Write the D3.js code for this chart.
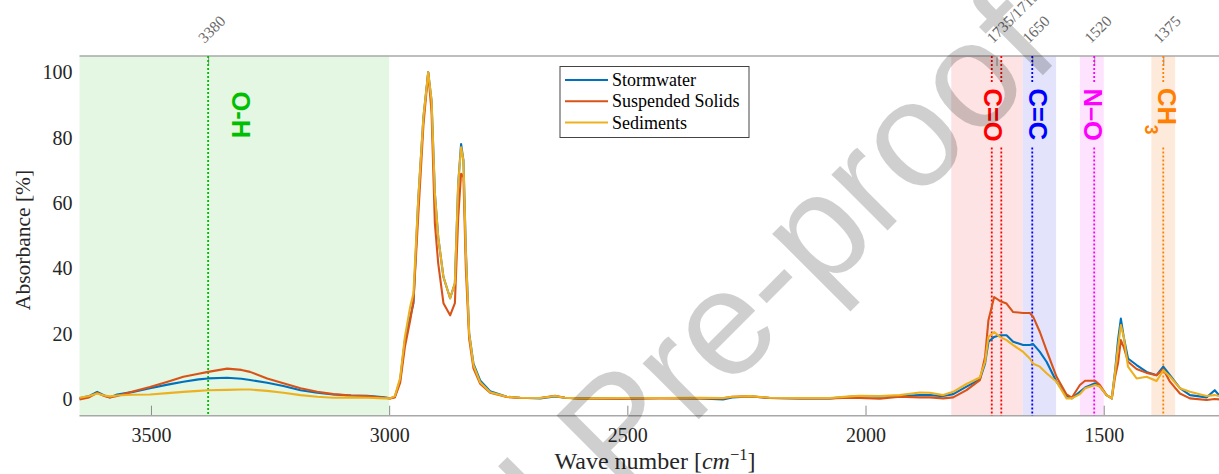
<!DOCTYPE html>
<html>
<head>
<meta charset="utf-8">
<script src="https://cdn.jsdelivr.net/npm/d3@7"></script>
<style>
  html, body { margin: 0; padding: 0; background: #fff; }
  svg { display: block; }
</style>
</head>
<body>
<svg id="chart" width="1219" height="474"></svg>
<script>
// FTIR spectra: wave number (cm^-1) and normalised absorbance (%)
const waveNumbers = [3650,3630,3613,3598,3586,3571,3540,3502,3465,3432,3400,3380,3340,3310,3292,3256,3222,3186,3151,3117,3080,3046,3010,2998,2988,2977,2967,2956,2949,2939,2928,2918,2911,2904,2897,2886,2872,2862,2855,2849,2844,2839,2832,2823,2809,2788,2753,2725,2683,2652,2631,2599,2515,2431,2347,2299,2280,2242,2201,2138,2075,2033,2012,1970,1928,1886,1865,1837,1816,1788,1760,1749,1742,1730,1718,1704,1690,1669,1655,1648,1634,1620,1599,1578,1567,1550,1539,1518,1508,1494,1483,1476,1470,1464,1458,1449,1431,1410,1389,1375,1361,1340,1319,1284,1267,1258];

const stormwater = [0.3,1.0,2.3,1.2,0.6,1.5,2.2,3.4,4.5,5.4,6.1,6.4,6.6,6.3,5.9,5.1,4.1,2.8,2.0,1.5,1.2,1.1,0.6,0.3,0.8,5.9,18,25,29.4,60.8,86.3,100,91.3,62.9,49.6,37.4,30.9,35.5,66,78.1,73,45.6,20.2,10.9,5.8,2.5,0.8,0.5,0.3,0.9,0.5,0.3,0.3,0.4,0.3,0.0,0.6,0.9,0.4,0.3,0.3,0.8,1.0,0.8,1.0,1.3,1.3,1.0,1.6,3.9,6.1,11,17.6,19.1,19.6,19.6,17.6,16.6,16.6,16.9,14.5,11.5,5.4,1.0,0.3,2.3,3.6,4.9,3.9,1.3,0.3,8.9,18.1,24.7,19.1,12.5,10.5,8.4,7.4,10,7.4,3.4,1.3,0.6,2.8,1.3];

const suspendedSolids = [0.0,0.6,2.0,1.0,0.6,1.0,2.3,3.8,5.4,6.9,7.8,8.4,9.4,9.0,8.4,6.4,4.9,3.4,2.3,1.6,1.2,1.0,0.5,0.3,0.6,5.0,16,24,30,56,84,100,88,53.7,41.6,29.4,25.7,29.4,55.7,69,68,40,18.5,9.5,4.8,2.0,0.7,0.4,0.4,1.1,0.5,0.2,0.2,0.3,0.3,0.3,0.8,0.9,0.4,0.3,0.3,0.5,0.4,0.2,0.8,0.6,0.6,0.3,0.6,2.8,5.9,13,24.2,31.3,30.1,29.3,26.7,26.4,26.4,25.2,20.6,15,6.9,1.5,0.5,4.4,5.7,5.7,4.4,1.3,0.3,7,11,18.1,16,11.5,9.3,8.1,7.4,9.2,5.4,1.8,0.3,-0.2,0.1,0.0];

const sediments = [0.5,1.0,1.8,1.2,0.9,1.2,1.4,1.5,1.9,2.3,2.6,2.8,2.9,3.0,3.0,2.6,2.0,1.3,0.8,0.5,0.6,0.5,0.3,0.3,1.0,6.5,19,28.2,32.4,61,86.5,100,91.5,62.9,49.6,37.4,30.9,35.5,66,77.1,73,45,20,10.5,5.2,2.2,0.8,0.5,0.4,1.0,0.5,0.3,0.4,0.4,0.5,0.4,0.8,1.0,0.5,0.4,0.4,0.9,1.1,1.0,1.3,2.1,2.0,1.3,2.3,4.7,6.7,11.5,19.1,20.6,19.1,18.1,16.6,14.5,12.5,10.9,10,8,5.4,0.3,0.3,1.6,3.4,4.4,3.9,1.3,0.3,8.5,16,22.7,19.1,10,6.4,6.9,5.6,8.9,7.0,3.4,2.3,1.0,1.3,1.0];

const seriesNames = ["Stormwater", "Suspended Solids", "Sediments"];
const xTickValues = [3500, 3000, 2500, 2000, 1500];
const yTickValues = [0, 20, 40, 60, 80, 100];

// Absorption regions (cm^-1) and the characteristic peak lines inside them
const regionRanges = [[3650, 3000], [1820, 1670], [1670, 1600], [1550, 1500], [1400, 1350]];
const peakLines = [3380, 1735, 1715, 1650, 1520, 1375];
const topTickValues = [3380, 1725, 1650, 1520, 1375];
const topTickLabels = ["3380", "1735/1715", "1650", "1520", "1375"];
const bondNames = ["O-H", "C=O", "C=C", "N\u2013O", "CH"];
const bondCentres = [3311, 1732, 1638, 1522, 1367];

// ---- layout -------------------------------------------------------------
const W = 1219, H = 474;
const plot = { left: 79.5, right: 1219, top: 56, bottom: 415.7 };
const serif = "'Liberation Serif', 'Times New Roman', serif";
const sans = "'Liberation Sans', Arial, Helvetica, sans-serif";

const svg = d3.select("#chart");
svg.append("rect").attr("width", W).attr("height", H).attr("fill", "#fff");

const x = d3.scaleLinear().domain([3650, 1258]).range([plot.left, plot.right]);
const y = d3.scaleLinear().domain([-5, 105]).range([plot.bottom, plot.top]);

const regionFill = ["#e3f7e3", "#fde3e3", "#e3e3fb", "#fde3fd", "#fdeadb"];
const lineColour = ["rgb(0,190,0)", "#ff0000", "#ff0000", "#0000ff", "#ff00ff", "#ff8000"];
const bondColour = ["rgb(0,190,0)", "#ff0000", "#0000ff", "#ff00ff", "#ff8000"];
const seriesColour = ["#0072BD", "#D95319", "#EDB120"];

// shaded absorption regions
svg.append("g").selectAll("rect").data(regionRanges).join("rect")
  .attr("x", d => x(d[0]))
  .attr("width", d => x(d[1]) - x(d[0]))
  .attr("y", plot.top)
  .attr("height", plot.bottom - plot.top)
  .attr("fill", (d, i) => regionFill[i]);

// bottom axis
const xAxis = d3.axisBottom(x).tickValues(xTickValues).tickFormat(d3.format("d"))
  .tickSizeInner(-10).tickSizeOuter(0).tickPadding(12);
const gx = svg.append("g").attr("transform", `translate(0,${plot.bottom})`).call(xAxis);
gx.select(".domain").remove();
gx.selectAll(".tick line").attr("stroke", "#8a8a8a").attr("stroke-width", 1);
gx.selectAll(".tick text").attr("fill", "#262626").attr("font-family", serif).attr("font-size", 20);

// left axis (labels only)
const yAxis = d3.axisLeft(y).tickValues(yTickValues).tickSize(0).tickPadding(7);
const gy = svg.append("g").attr("transform", `translate(${plot.left},0)`).call(yAxis);
gy.select(".domain").remove();
gy.selectAll(".tick text").attr("fill", "#262626").attr("font-family", serif).attr("font-size", 20);

// top axis with the peak positions
const topAxis = d3.axisTop(x).tickValues(topTickValues)
  .tickFormat((d, i) => topTickLabels[i]).tickSizeInner(-10).tickSizeOuter(0);
const gt = svg.append("g").attr("transform", `translate(0,${plot.top})`).call(topAxis);
gt.select(".domain").remove();
gt.selectAll(".tick line").attr("stroke", "#8a8a8a").attr("stroke-width", 1);
gt.selectAll(".tick text")
  .attr("x", 0).attr("y", 0).attr("dy", null)
  .attr("transform", "translate(-4,-12) rotate(-45)")
  .attr("text-anchor", "start")
  .attr("fill", "#6a6a6a").attr("font-family", serif).attr("font-size", 15.5);

// frame lines
svg.append("line").attr("x1", plot.left).attr("x2", plot.right)
  .attr("y1", plot.top).attr("y2", plot.top).attr("stroke", "#a8a8a8").attr("stroke-width", 1.5);
svg.append("line").attr("x1", plot.left).attr("x2", plot.right)
  .attr("y1", plot.bottom).attr("y2", plot.bottom).attr("stroke", "#a8a8a8").attr("stroke-width", 1.5);

// dotted peak lines; all but O-H leave a gap for their bond label
const gapTop = 97, gapBottom = 77;
const gPeaks = svg.append("g").attr("fill", "none").attr("stroke-width", 1.8).attr("stroke-dasharray", "2,2");
peakLines.forEach((p, i) => {
  const segs = i === 0 ? [[105, -5]] : [[105, gapTop], [gapBottom, -5]];
  segs.forEach(s => {
    gPeaks.append("line")
      .attr("x1", x(p)).attr("x2", x(p))
      .attr("y1", y(s[0])).attr("y2", y(s[1]))
      .attr("stroke", lineColour[i]);
  });
});

// spectra
const line = d3.line().x(d => x(d[0])).y(d => y(d[1]));
const allSeries = [stormwater, suspendedSolids, sediments];
svg.append("g").selectAll("path").data(allSeries).join("path")
  .attr("d", s => line(waveNumbers.map((w, i) => [w, s[i]])))
  .attr("fill", "none")
  .attr("stroke", (d, i) => seriesColour[i])
  .attr("stroke-width", 2.1)
  .attr("stroke-linejoin", "round");

// bond labels, written top to bottom
const labelTop = [91.5, 88.5, 88.5, 88.5, 88];
const gBond = svg.append("g").attr("font-family", sans).attr("font-weight", "bold").attr("font-size", 25.5);
bondNames.forEach((b, i) => {
  const t = gBond.append("text")
    .attr("transform", `translate(${x(bondCentres[i])},${labelTop[i]}) rotate(90)`)
    .attr("dy", "0.36em")
    .attr("fill", bondColour[i])
    .text(b);
  if (b === "CH") {
    t.append("tspan").attr("font-size", 17.5).attr("dy", 13).text("3");
  }
});

// legend
const lg = svg.append("g").attr("transform", "translate(560,66.5)");
lg.append("rect").attr("width", 189).attr("height", 71)
  .attr("fill", "#fff").attr("stroke", "#444").attr("stroke-width", 1);
seriesNames.forEach((n, i) => {
  const yy = 13.5 + i * 21.3;
  lg.append("line").attr("x1", 5).attr("x2", 48).attr("y1", yy).attr("y2", yy)
    .attr("stroke", seriesColour[i]).attr("stroke-width", 2);
  lg.append("text").attr("x", 52).attr("y", yy).attr("dy", "0.33em")
    .attr("font-family", serif).attr("font-size", 18).attr("fill", "#000").text(n);
});

// axis titles
svg.append("text")
  .attr("transform", "translate(30,240) rotate(-90)")
  .attr("text-anchor", "middle")
  .attr("font-family", serif).attr("font-size", 21.5).attr("fill", "#262626")
  .text("Absorbance [%]");

const xt = svg.append("text")
  .attr("x", 655).attr("y", 469)
  .attr("text-anchor", "middle")
  .attr("font-family", serif).attr("font-size", 24).attr("fill", "#262626");
xt.append("tspan").text("Wave number [");
xt.append("tspan").attr("font-style", "italic").text("cm");
xt.append("tspan").attr("font-size", 16.5).attr("dy", -9).text("\u22121");
xt.append("tspan").attr("dy", 9).text("]");

// journal watermark
svg.append("text")
  .attr("transform", "translate(1063,55) rotate(-45)")
  .attr("text-anchor", "end")
  .attr("font-family", sans).attr("font-size", 150)
  .attr("fill", "#000").attr("fill-opacity", 0.19)
  .text("Journal Pre-proof");
</script>
</body>
</html>
